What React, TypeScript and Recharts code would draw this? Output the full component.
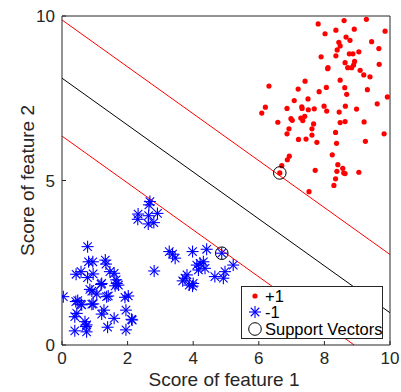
import React from 'react';
import {
  ScatterChart,
  Scatter,
  XAxis,
  YAxis,
  ReferenceLine,
  Legend,
} from 'recharts';

// Class +1 samples (feature 1, feature 2)
const positiveClass: [number, number][] = [
  [7.81, 9.76], [8.6, 9.86], [9.28, 9.9], [8.02, 9.46], [8.35, 9.57], [8.91, 9.6], [9.85, 9.54],
  [8.66, 9.36], [8.44, 9.2], [8.78, 9.26], [9.44, 9.22], [8.48, 9.09], [8.39, 8.97], [9.66, 9.01],
  [8.76, 8.85], [8.87, 8.85], [9.05, 8.91], [8.35, 8.79], [7.9, 8.76], [8.63, 8.58], [8.92, 8.62],
  [8.89, 8.51], [9.67, 8.53], [8.11, 8.43], [8.1, 8.4], [8.71, 8.43], [8.83, 8.43], [9.09, 8.35],
  [9.2, 8.21], [9.39, 8.15], [8.48, 8.05], [7.41, 8.02], [6.31, 7.87], [8.62, 7.82], [7.2, 7.78],
  [7.84, 7.7], [8.06, 7.83], [9.31, 7.76], [8.68, 7.62], [9.92, 7.54], [7.08, 7.43], [7.5, 7.48],
  [9.61, 7.33], [6.2, 7.23], [6.09, 7.05], [6.86, 7.19], [7.31, 7.24], [7.32, 7.19], [7.51, 7.15],
  [7.69, 7.18], [7.99, 7.26], [8.07, 7.11], [8.64, 7.26], [8.98, 7.17], [8.45, 7.08], [7.4, 6.95],
  [6.98, 6.88], [7.28, 6.9], [7.02, 6.83], [7.34, 6.82], [6.58, 6.77], [7.67, 6.72], [8.48, 6.76],
  [8.63, 6.79], [9.21, 6.78], [6.92, 6.57], [7.62, 6.57], [6.86, 6.42], [7.62, 6.38], [8.34, 6.46],
  [9.82, 6.42], [7.21, 6.25], [7.44, 6.26], [7.77, 6.16], [8.37, 6.13], [9.25, 6.19], [8.24, 5.78],
  [6.93, 5.74], [6.87, 5.63], [8.41, 5.48], [6.7, 5.45], [8.56, 5.37], [8.38, 5.28], [7.72, 5.31],
  [8.59, 5.23], [8.63, 5.21], [9.05, 5.25], [6.64, 5.23], [8.34, 5.05], [8.29, 4.85], [7.53, 4.66],
];

// Class -1 samples (feature 1, feature 2)
const negativeClass: [number, number][] = [
  [2.68, 4.36], [2.65, 4.26], [2.32, 3.98], [2.91, 4.0], [2.64, 3.93], [2.31, 3.82], [2.63, 3.68],
  [2.8, 3.72], [0.78, 2.99], [0.81, 2.53], [0.94, 2.53], [1.32, 2.58], [1.34, 2.46], [0.43, 2.15],
  [0.58, 2.23], [0.78, 2.05], [0.95, 2.16], [1.46, 2.23], [1.59, 2.18], [1.65, 1.98], [1.72, 1.82],
  [1.62, 1.8], [1.19, 1.84], [0.85, 1.69], [0.91, 1.64], [1.06, 1.55], [0.04, 1.47], [0.42, 1.32],
  [0.58, 1.24], [0.91, 1.24], [1.36, 1.47], [1.92, 1.45], [2.02, 1.49], [0.45, 0.96], [0.39, 0.86],
  [1.21, 0.94], [1.28, 1.06], [1.95, 1.06], [0.7, 0.71], [1.59, 0.81], [2.14, 0.76], [0.39, 0.43],
  [0.73, 0.56], [0.75, 0.4], [1.39, 0.54], [1.95, 0.46], [2.81, 2.25], [3.27, 2.84], [3.37, 2.76],
  [3.45, 2.64], [3.98, 2.84], [4.11, 2.43], [3.68, 1.95], [3.81, 2.13], [3.88, 1.82], [3.98, 1.79],
  [4.41, 2.91], [4.87, 2.79], [4.21, 2.48], [4.31, 2.53], [4.16, 2.28], [4.36, 2.33], [3.75, 2.03],
  [4.0, 1.87], [4.66, 2.08], [4.97, 2.23], [4.92, 2.03], [5.22, 2.43], [1.67, 1.87], [1.21, 1.87],
  [1.41, 1.49], [0.48, 1.35], [0.6, 1.22], [0.95, 1.25], [2.12, 0.78], [0.75, 0.61],
];

const supportVectors: [number, number][] = [
  [6.64, 5.23],
  [4.87, 2.79],
];

// Decision boundary and margins: feature2 = intercept + slope * feature1
const boundarySlope = -0.713;
const marginUpperIntercept = 9.88;
const boundaryIntercept = 8.11;
const marginLowerIntercept = 6.35;

const xTicks = [0, 2, 4, 6, 8, 10];
const yTicks = [0, 5, 10];
const axisMin = 0;
const axisMax = 10;

const FONT = '"Liberation Sans", Arial, Helvetica, sans-serif';
const AXIS_COLOR = '#262626';

const toPoints = (arr: [number, number][]) => arr.map(([x, y]) => ({ x, y }));

// Clip y = c + m x to the square axis box and return its two end points
function clippedSegment(c: number, m: number) {
  const pts: { x: number; y: number }[] = [];
  const add = (x: number, y: number) => {
    if (x >= axisMin - 1e-9 && x <= axisMax + 1e-9 && y >= axisMin - 1e-9 && y <= axisMax + 1e-9) {
      if (!pts.some((p) => Math.abs(p.x - x) < 1e-6 && Math.abs(p.y - y) < 1e-6)) pts.push({ x, y });
    }
  };
  add(axisMin, c + m * axisMin);
  add(axisMax, c + m * axisMax);
  add((axisMin - c) / m, axisMin);
  add((axisMax - c) / m, axisMax);
  return pts.slice(0, 2);
}

const RedDot = (props: any) => <circle cx={props.cx} cy={props.cy} r={2.6} fill="#ff0000" />;

const Asterisk = ({ cx, cy, s = 6 }: any) => {
  const d = s * 0.7071;
  return (
    <g stroke="#0000ff" strokeWidth={1.1}>
      <line x1={cx - s} y1={cy} x2={cx + s} y2={cy} />
      <line x1={cx} y1={cy - s} x2={cx} y2={cy + s} />
      <line x1={cx - d} y1={cy - d} x2={cx + d} y2={cy + d} />
      <line x1={cx - d} y1={cy + d} x2={cx + d} y2={cy - d} />
    </g>
  );
};

const BlueStar = (props: any) => <Asterisk cx={props.cx} cy={props.cy} />;

const SvRing = (props: any) => (
  <circle cx={props.cx} cy={props.cy} r={6.3} fill="none" stroke="#000000" strokeWidth={1} />
);

const LegendBox = () => {
  const rows = [
    { key: '+1', icon: <circle cx={13} cy={8} r={2.6} fill="#ff0000" /> },
    { key: '-1', icon: <Asterisk cx={13} cy={8} /> },
    { key: 'Support Vectors', icon: <circle cx={13} cy={8} r={6.3} fill="none" stroke="#000" strokeWidth={1} /> },
  ];
  return (
    <div
      style={{
        width: 142,
        height: 53,
        boxSizing: 'border-box',
        border: `1px solid ${AXIS_COLOR}`,
        background: '#fff',
        paddingTop: 1,
        fontFamily: FONT,
        fontSize: 16.5,
        color: '#000',
        whiteSpace: 'nowrap',
        overflow: 'hidden',
      }}
    >
      {rows.map((r) => (
        <div key={r.key} style={{ display: 'flex', alignItems: 'center', height: 16.3 }}>
          <svg width={23} height={16} style={{ flex: 'none' }}>
            {r.icon}
          </svg>
          <span style={{ lineHeight: '16px' }}>{r.key}</span>
        </div>
      ))}
    </div>
  );
};

const YTitle = (props: any) => {
  const vb = props.viewBox || {};
  const x = (vb.x ?? 0) + (vb.width ?? 0) - 35;
  const y = (vb.y ?? 0) + (vb.height ?? 0) / 2;
  return (
    <text
      x={x}
      y={y}
      transform={`rotate(-90 ${x} ${y})`}
      textAnchor="middle"
      dominantBaseline="central"
      fontFamily={FONT}
      fontSize={19}
      fill={AXIS_COLOR}
    >
      Score of feature 2
    </text>
  );
};

const XTitle = (props: any) => {
  const vb = props.viewBox || {};
  const x = (vb.x ?? 0) + (vb.width ?? 0) / 2 - 2;
  const y = (vb.y ?? 0) + 34;
  return (
    <text
      x={x}
      y={y}
      textAnchor="middle"
      dominantBaseline="central"
      fontFamily={FONT}
      fontSize={19}
      fill={AXIS_COLOR}
    >
      Score of feature 1
    </text>
  );
};

export default function App() {
  const lines = [
    { c: marginUpperIntercept, color: '#ff0000' },
    { c: boundaryIntercept, color: '#000000' },
    { c: marginLowerIntercept, color: '#ff0000' },
  ];
  const tickStyle = { fontFamily: FONT, fontSize: 17, fill: AXIS_COLOR };
  return (
    <div style={{ position: 'absolute', left: 0, top: 0, background: '#fff' }}>
      <ScatterChart width={401} height={392} margin={{ top: 15, right: 10, bottom: 2, left: 2 }}>
        <XAxis
          xAxisId="b"
          type="number"
          dataKey="x"
          domain={[axisMin, axisMax]}
          ticks={xTicks}
          allowDataOverflow
          height={45}
          stroke={AXIS_COLOR}
          tickSize={-4}
          tickMargin={11}
          tick={tickStyle}
          label={{ content: <XTitle /> }}
        />
        <XAxis
          xAxisId="t"
          orientation="top"
          type="number"
          dataKey="x"
          domain={[axisMin, axisMax]}
          ticks={xTicks}
          allowDataOverflow
          height={1}
          stroke={AXIS_COLOR}
          tickSize={-4}
          tick={false}
        />
        <YAxis
          yAxisId="l"
          type="number"
          dataKey="y"
          domain={[axisMin, axisMax]}
          ticks={yTicks}
          allowDataOverflow
          width={60}
          stroke={AXIS_COLOR}
          tickSize={-4}
          tickMargin={11}
          tick={tickStyle}
          label={{ content: <YTitle /> }}
        />
        <YAxis
          yAxisId="r"
          orientation="right"
          type="number"
          dataKey="y"
          domain={[axisMin, axisMax]}
          ticks={yTicks}
          allowDataOverflow
          width={1}
          stroke={AXIS_COLOR}
          tickSize={-4}
          tick={false}
        />
        <Scatter
          xAxisId="b"
          yAxisId="l"
          name="+1"
          data={toPoints(positiveClass)}
          shape={RedDot}
          isAnimationActive={false}
        />
        <Scatter
          xAxisId="b"
          yAxisId="l"
          name="-1"
          data={toPoints(negativeClass)}
          shape={BlueStar}
          isAnimationActive={false}
        />
        <Scatter
          xAxisId="b"
          yAxisId="l"
          name="Support Vectors"
          data={toPoints(supportVectors)}
          shape={SvRing}
          isAnimationActive={false}
        />
        {lines.map((l, i) => (
          <ReferenceLine
            key={i}
            xAxisId="b"
            yAxisId="l"
            segment={clippedSegment(l.c, boundarySlope)}
            stroke={l.color}
            strokeWidth={1}
            ifOverflow="visible"
          />
        ))}
        <Legend
          layout="vertical"
          align="center"
          verticalAlign="middle"
          wrapperStyle={{ position: 'absolute', left: 241, top: 286, width: 142, height: 53 }}
          content={() => <LegendBox />}
        />
      </ScatterChart>
    </div>
  );
}
